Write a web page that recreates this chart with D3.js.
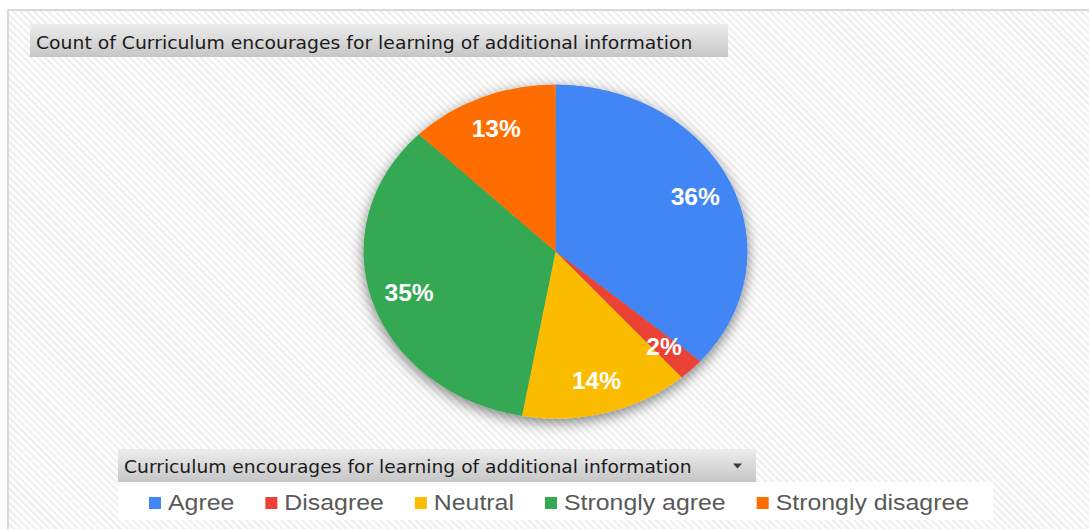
<!DOCTYPE html>
<html>
<head>
<meta charset="utf-8">
<script src="https://cdn.jsdelivr.net/npm/d3@7"></script>
<style>
  body { margin: 0; background: #fff; }
</style>
</head>
<body>
<svg id="chart" width="1089" height="529"></svg>
<script>
// data (share of answers)
var categories = ["Agree", "Disagree", "Neutral", "Strongly agree", "Strongly disagree"];
var values = [36.4, 2.2, 14.2, 34.6, 12.6];
var colors = ["#4285f4", "#ea4335", "#fbbc04", "#34a853", "#ff6d01"];
var chartTitle = "Count of Curriculum encourages for learning of additional information";
var fieldName = "Curriculum encourages for learning of additional information";

var svg = d3.select("#chart");
var W = 1089, H = 529;
var SX = 1.13; // the screenshot is a bit wide, so text gets stretched too

var defs = svg.append("defs");

//Hatched background
var pat = defs.append("pattern")
  .attr("id", "hatch")
  .attr("patternUnits", "userSpaceOnUse")
  .attr("width", 5).attr("height", 5)
  .attr("patternTransform", "rotate(-45)");
pat.append("rect").attr("width", 5).attr("height", 5).attr("fill", "#ffffff");
pat.append("rect").attr("width", 2.2).attr("height", 5).attr("fill", "#eeeeee");

//Button gradient
var grad = defs.append("linearGradient")
  .attr("id", "btn").attr("x1", 0).attr("y1", 0).attr("x2", 0).attr("y2", 1);
grad.append("stop").attr("offset", "0%").attr("stop-color", "#ededed");
grad.append("stop").attr("offset", "100%").attr("stop-color", "#c6c6c6");

//Soft shadow for the pie
var f = defs.append("filter").attr("id", "shadow")
  .attr("x", "-20%").attr("y", "-20%").attr("width", "140%").attr("height", "140%");
f.append("feGaussianBlur").attr("in", "SourceAlpha").attr("stdDeviation", 7).attr("result", "b");
f.append("feOffset").attr("in", "b").attr("dx", 0).attr("dy", 4).attr("result", "o");
f.append("feComponentTransfer").attr("in", "o").attr("result", "s")
  .append("feFuncA").attr("type", "linear").attr("slope", 0.5);
var fm = f.append("feMerge");
fm.append("feMergeNode").attr("in", "s");
fm.append("feMergeNode").attr("in", "SourceGraphic");

//Chart area with frame
svg.append("rect")
  .attr("x", 8).attr("y", 10)
  .attr("width", W).attr("height", H)
  .attr("fill", "url(#hatch)")
  .attr("stroke", "#d9d9d9")
  .attr("stroke-width", 2);

//helper: squeeze / stretch a text to a width
function fitText(sel, x, y, target) {
  var w = sel.node().getComputedTextLength();
  sel.attr("transform", "translate(" + x + "," + y + ") scale(" + (target / w) + ",1)");
}

//Title button
svg.append("rect")
  .attr("x", 30).attr("y", 24)
  .attr("width", 698).attr("height", 33)
  .attr("fill", "url(#btn)");
var title = svg.append("text")
  .attr("font-family", "'DejaVu Sans', Verdana, sans-serif")
  .attr("font-size", 17.5)
  .attr("fill", "#1b1b1b")
  .text(chartTitle);
fitText(title, 36, 49, 657);

//Pie
var cx = 555.5, cy = 251.5, rx = 192, ry = 167;
var total = d3.sum(values);
var data = categories.map((c, i) => ({name: c, value: values[i], color: colors[i]}));

var pie = d3.pie().sort(null).value(d => d.value);
var arcs = pie(data);
var arc = d3.arc().innerRadius(0).outerRadius(ry);
var labelArc = d3.arc().innerRadius(ry * 0.8).outerRadius(ry * 0.8);

var pg = svg.append("g")
  .attr("filter", "url(#shadow)")
  .append("g")
  .attr("transform", "translate(" + cx + "," + cy + ") scale(" + (rx / ry) + ",1)");

pg.selectAll("path")
  .data(arcs)
  .enter()
  .append("path")
  .attr("d", arc)
  .attr("fill", d => d.data.color);

var pct = d3.format(".0%");
svg.selectAll(".lbl")
  .data(arcs)
  .enter()
  .append("text")
  .attr("class", "lbl")
  .attr("transform", d => {
    var c = labelArc.centroid(d);
    return "translate(" + (cx + c[0] * rx / ry) + "," + (cy + c[1] + 9) + ") scale(1.07,1)";
  })
  .attr("text-anchor", "middle")
  .attr("font-family", "'Liberation Sans', Arial, sans-serif")
  .attr("font-weight", "bold")
  .attr("font-size", 23)
  .attr("fill", "#ffffff")
  .text(d => pct(d.data.value / total));

//Legend field button
svg.append("rect")
  .attr("x", 118).attr("y", 449)
  .attr("width", 638).attr("height", 33)
  .attr("fill", "url(#btn)");
var field = svg.append("text")
  .attr("font-family", "'DejaVu Sans', Verdana, sans-serif")
  .attr("font-size", 17.5)
  .attr("fill", "#1b1b1b")
  .text(fieldName);
fitText(field, 124, 473, 568);
svg.append("path")
  .attr("d", "M733,463.5 L742,463.5 L737.5,468.5 Z")
  .attr("fill", "#3a3a3a");

//Legend
svg.append("rect")
  .attr("x", 118).attr("y", 482)
  .attr("width", 875).attr("height", 38)
  .attr("fill", "#ffffff");

var leg = svg.append("g");
var items = leg.selectAll("g")
  .data(data)
  .enter()
  .append("g");
items.append("rect")
  .attr("width", 12).attr("height", 12)
  .attr("y", 497)
  .attr("fill", d => d.color);
items.append("text")
  .attr("font-family", "'Liberation Sans', Arial, sans-serif")
  .attr("font-size", 22)
  .attr("fill", "#595959")
  .text(d => d.name);

//lay them out one after another
var xPos = 149;
items.each(function() {
  var g = d3.select(this);
  var t = g.select("text");
  var w = t.node().getComputedTextLength() * SX;
  g.select("rect").attr("x", xPos);
  t.attr("transform", "translate(" + (xPos + 19) + ",510) scale(" + SX + ",1)");
  xPos += 19 + w + 31;
});
</script>
</body>
</html>
